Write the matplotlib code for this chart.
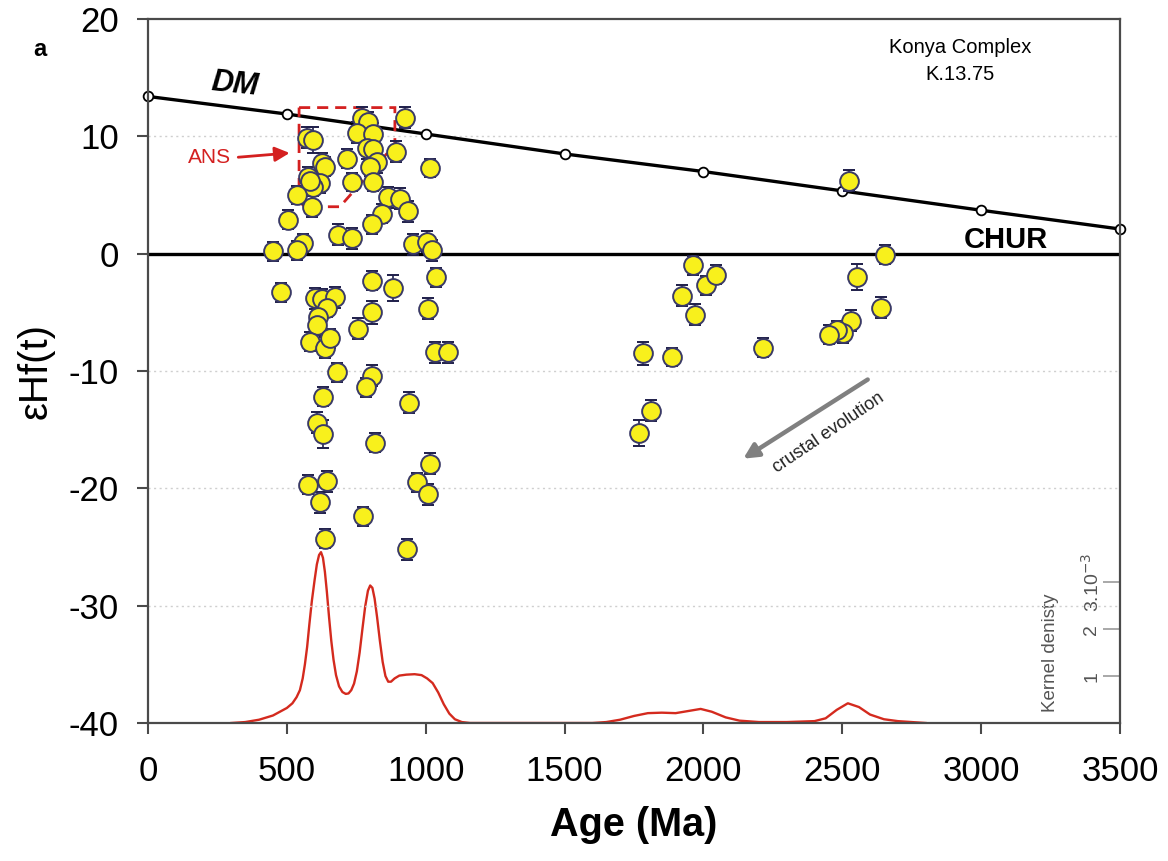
import matplotlib
matplotlib.use("Agg")
import matplotlib.pyplot as plt
import numpy as np
from matplotlib.patches import Polygon, FancyArrowPatch
import matplotlib.transforms as mtransforms

plt.rcParams['font.family'] = ['Liberation Sans', 'DejaVu Sans']
plt.rcParams['axes.unicode_minus'] = False

# ---------------- data ----------------
ages = [925, 770, 792, 752, 810, 572, 594, 788, 810, 893, 717, 824, 799, 627, 637, 1015,
        576, 619, 594, 583, 735, 810, 537, 591, 864, 907, 936, 843, 807, 504, 684, 735,
        558, 536, 450, 954, 1004, 1023,
        1037, 807, 883, 479, 601, 627, 673, 644, 612, 609, 807, 1008, 756, 583, 637, 655,
        1033, 1080, 680, 807, 785, 630, 940, 609, 630, 817, 1015, 576, 644, 969, 1008,
        619, 774, 637, 933,
        1962, 1922, 1970, 2009, 2045, 1783, 1887, 1811, 1768, 2214,
        2524, 2654, 2553, 2640, 2531, 2503, 2481, 2452]
ehf = [11.6, 11.6, 11.2, 10.3, 10.2, 9.9, 9.7, 9.0, 8.9, 8.7, 8.1, 7.8, 7.4, 7.7, 7.4, 7.3,
       6.5, 6.0, 5.7, 6.2, 6.1, 6.1, 5.0, 4.0, 4.8, 4.7, 3.6, 3.4, 2.5, 2.9, 1.6, 1.3,
       0.9, 0.3, 0.2, 0.8, 1.0, 0.3,
       -2.0, -2.3, -2.9, -3.3, -3.8, -3.9, -3.7, -4.6, -5.4, -6.1, -5.0, -4.7, -6.4, -7.5, -8.0, -7.2,
       -8.4, -8.4, -10.1, -10.4, -11.4, -12.2, -12.7, -14.4, -15.4, -16.1, -17.9, -19.7, -19.4, -19.5, -20.5,
       -21.2, -22.4, -24.3, -25.2,
       -1.0, -3.6, -5.2, -2.7, -1.8, -8.5, -8.8, -13.4, -15.3, -8.0,
       6.2, -0.1, -2.0, -4.6, -5.7, -6.8, -6.5, -6.9]
err = [0.9, 0.9, 0.9, 0.9, 0.9, 0.9, 1.1, 0.9, 0.9, 0.9, 0.8, 0.9, 0.8, 0.9, 0.8, 0.8,
       0.9, 0.8, 0.8, 0.8, 0.8, 0.8, 0.8, 0.9, 0.9, 0.9, 0.9, 0.8, 0.8, 0.8, 0.9, 0.9,
       0.8, 0.8, 0.8, 0.9, 0.9, 0.9,
       0.8, 0.8, 1.1, 0.8, 0.9, 0.9, 0.9, 0.8, 0.8, 0.8, 1.0, 0.9, 0.9, 0.8, 0.9, 0.8,
       0.9, 0.9, 0.8, 0.9, 0.8, 0.8, 0.9, 0.9, 1.2, 0.8, 0.9, 0.8, 0.9, 0.8, 0.9,
       0.9, 0.8, 0.8, 0.9,
       0.8, 0.9, 0.9, 0.8, 0.8, 1.0, 0.8, 0.9, 1.1, 0.8,
       0.9, 0.8, 1.1, 0.9, 0.9, 0.8, 0.8, 0.8]

dm_age = [0, 500, 1000, 1500, 2000, 2500, 3000, 3500]
dm_ehf = [13.4, 11.9, 10.2, 8.5, 7.0, 5.35, 3.7, 2.1]
chur_age = [0, 3500]
chur_ehf = [0, 0]

ans_age = [544, 889, 889, 691, 562, 544]
ans_ehf = [12.45, 12.45, 9.3, 4.0, 4.0, 4.6]

kde_age = [300, 350, 400, 450, 500, 520, 535, 547, 557, 565, 573, 581, 590, 600, 608, 616,
           623, 630, 637, 644, 652, 660, 668, 677, 688, 700, 712, 722, 732, 742, 752, 762,
           772, 782, 792, 800, 808, 816, 825, 835, 845, 855, 865, 875, 888, 905, 930, 960,
           985, 1005, 1025, 1045, 1065, 1085, 1105, 1130, 1160,
           1600, 1650, 1700, 1750, 1800, 1850, 1900, 1950, 1990, 2030, 2080, 2130, 2200,
           2300, 2400, 2440, 2480, 2520, 2560, 2600, 2650, 2700, 2750, 2800]
kde_val = [0.0, 0.02, 0.07, 0.16, 0.32, 0.42, 0.55, 0.70, 0.95, 1.25, 1.62, 2.10, 2.60, 3.05, 3.38, 3.58,
           3.64, 3.52, 3.22, 2.80, 2.25, 1.75, 1.35, 1.02, 0.78, 0.66, 0.62, 0.63, 0.70, 0.84, 1.10, 1.50,
           2.00, 2.48, 2.82, 2.93, 2.88, 2.65, 2.25, 1.75, 1.30, 1.00, 0.88, 0.88, 0.95, 1.01, 1.03, 1.04,
           1.02, 0.95, 0.85, 0.65, 0.40, 0.20, 0.08, 0.02, 0.0,
           0.0, 0.02, 0.07, 0.15, 0.21, 0.22, 0.21, 0.26, 0.30, 0.24, 0.12, 0.05, 0.02,
           0.02, 0.04, 0.10, 0.28, 0.42, 0.34, 0.18, 0.08, 0.04, 0.02, 0.0]

xticks = [0, 500, 1000, 1500, 2000, 2500, 3000, 3500]
yticks = [20, 10, 0, -10, -20, -30, -40]
kde_ticks = [1, 2, 3]
kde_ticklabels = ['1', '2', '3.10$^{-3}$']

# ---------------- figure ----------------
fig = plt.figure(figsize=(11.68, 8.61), dpi=100)
ax = fig.add_axes([148/1168, 1-723/861, 972/1168, 704/861])
ax.set_xlim(0, 3500)
ax.set_ylim(-40, 20)

spine_c = '#4a4a4a'
for s in ax.spines.values():
    s.set_color(spine_c)
    s.set_linewidth(1.6)

ax.set_xticks(xticks)
ax.set_yticks(yticks)
ax.tick_params(axis='both', direction='out', length=8, width=1.5, color=spine_c,
               labelsize=25)
ax.tick_params(axis='y', pad=13)
ax.tick_params(axis='x', pad=15)

for g in [10, -10, -20, -30]:
    ax.axhline(g, color='#cfcfcf', lw=1.0, ls=(0, (1.5, 2.5)), zorder=0)

# KDE (secondary axis)
ax2 = ax.twinx()
ax2.set_ylim(0, 15)
ax2.plot(kde_age, kde_val, color='#d42a1e', lw=1.7, zorder=2)
ax2.set_yticks(kde_ticks)
ax2.tick_params(axis='y', direction='in', length=12, width=1.2, color='#9a9a9a',
                labelright=False)
for s in ax2.spines.values():
    s.set_visible(False)
trans = mtransforms.blended_transform_factory(ax2.transAxes, ax2.transData)
for t, lab in zip(kde_ticks, kde_ticklabels):
    ax2.text(0.971, t, lab, transform=trans, rotation=90, ha='center', va='center',
             fontsize=14, color='#555555')
ax2.text(0.929, 1.5, 'Kernel denisty', transform=trans, rotation=90, ha='center',
         va='center', fontsize=13.5, color='#555555')

ax.set_zorder(ax2.get_zorder() + 1)
ax.patch.set_visible(False)

# reference lines
ax.plot(chur_age, chur_ehf, color='black', lw=2.4, zorder=2)
ax.plot(dm_age, dm_ehf, color='black', lw=2.4, zorder=2, marker='o', ms=7,
        mfc='white', mec='black', mew=1.3, clip_on=False)

# ANS field
ax.add_patch(Polygon(list(zip(ans_age, ans_ehf)), closed=True, fill=False,
                     edgecolor='#d42020', lw=2.0, ls=(0, (4, 2.5)), zorder=2))
ax.annotate('', xy=(520, 8.6), xytext=(315, 8.2),
            arrowprops=dict(arrowstyle='-|>', color='#d42020', lw=2.0, mutation_scale=22))
ax.text(300, 8.2, 'ANS', color='#d42020', fontsize=15, ha='right', va='center')

# data points
ax.errorbar(ages, ehf, yerr=err, fmt='none', ecolor='#1e1e4a', elinewidth=1.2,
            capsize=4.5, capthick=1.4, zorder=3)
ax.plot(ages, ehf, ls='none', marker='o', ms=13.5, mfc='#f8f01c', mec='#3a3a66',
        mew=1.4, zorder=4)

# labels
ax.text(313, 14.4, 'DM', fontsize=22, fontweight='bold', fontstyle='italic',
        rotation=-6, ha='center', va='center')
ax.text(3090, 1.2, 'CHUR', fontsize=21, fontweight='bold', ha='center', va='center')
ax.text(2925, 16.4, 'Konya Complex\nK.13.75', fontsize=14.5, ha='center', va='center',
        linespacing=1.55)

arr = FancyArrowPatch((2600, -10.6), (2135, -17.6), arrowstyle='-|>', color='#808080',
                      lw=3.2, mutation_scale=22, zorder=2)
ax.add_patch(arr)
ax.text(2452, -15.3, 'crustal evolution', rotation=34, fontsize=13, ha='center',
        va='center', color='#222222')

ax.set_xlabel('Age (Ma)', fontsize=28.5, fontweight='bold')
ax.xaxis.set_label_coords(0.5, -0.118)
ax.set_ylabel('εHf(t)', fontsize=29)
ax.yaxis.set_label_coords(-0.096, 0.5)

fig.text(40/1168, 1-50/861, 'a', fontsize=17, fontweight='bold', ha='center', va='center')

fig.savefig('out.png', dpi=100)
